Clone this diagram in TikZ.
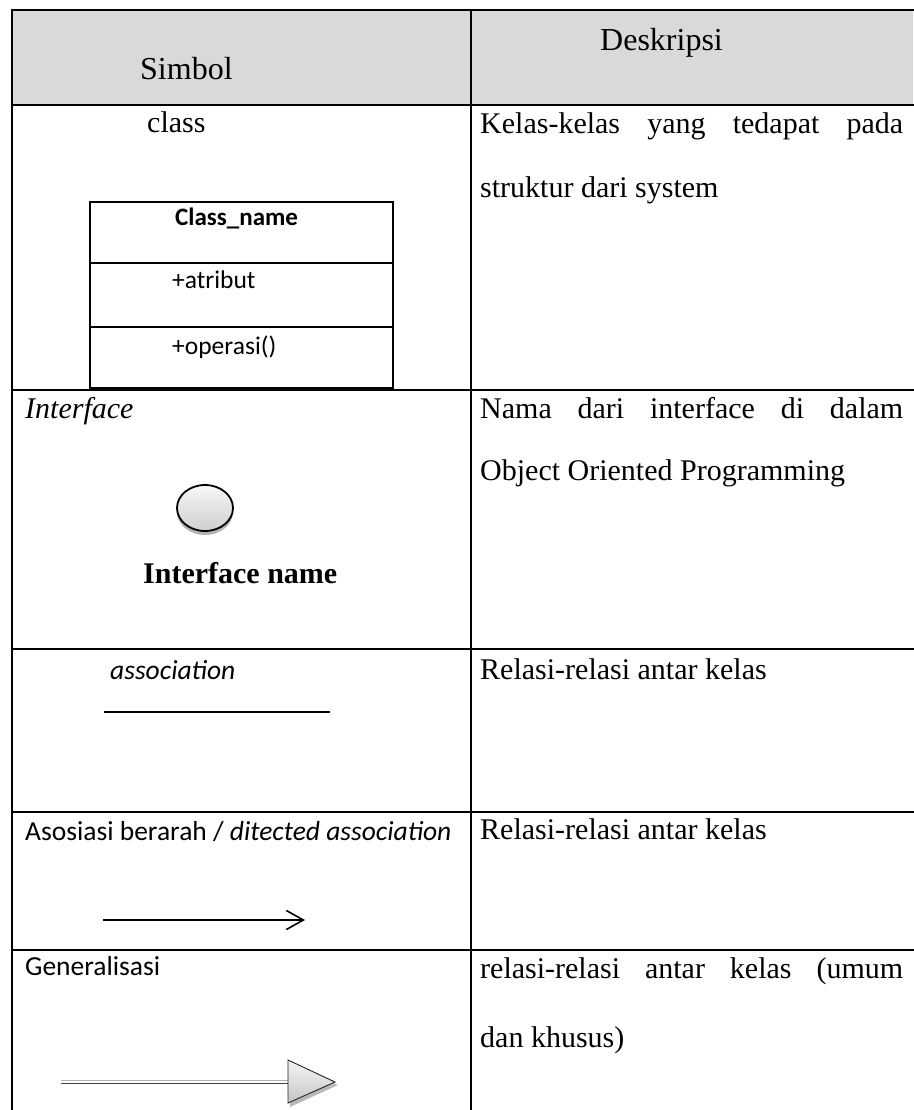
\documentclass[tikz,border=0pt]{standalone}
\usepackage{fontspec}
\setmainfont{Liberation Serif}
\newfontfamily\calibri{Carlito}
\usetikzlibrary{arrows.meta}
\definecolor{headgray}{HTML}{D9D9D9}
\tikzset{
  rowrule/.style={line width=2.6pt, line cap=rect},
  colrule/.style={line width=1.4pt},
  serif/.style={font=\fontsize{30}{36}\selectfont, inner sep=0pt, anchor=base west},
  serifit/.style={font=\itshape\fontsize{30}{36}\selectfont, inner sep=0pt, anchor=base west},
  serifbf/.style={font=\bfseries\fontsize{30}{36}\selectfont, inner sep=0pt, anchor=base west},
  headtext/.style={font=\fontsize{32}{38}\selectfont, inner sep=0pt, anchor=base west},
  sans/.style={font=\calibri\fontsize{27.5}{33}\selectfont, inner sep=0pt, anchor=base west},
  sansit/.style={font=\calibri\itshape\fontsize{27.5}{33}\selectfont, inner sep=0pt, anchor=base west},
  boxtext/.style={font=\calibri\fontsize{25.5}{30}\selectfont, inner sep=0pt, anchor=base west},
  boxtitle/.style={font=\calibri\bfseries\fontsize{25}{30}\selectfont, inner sep=0pt, anchor=base west},
  umlline/.style={line width=1.4pt},
}
\begin{document}
\begin{tikzpicture}[x=1pt,y=-1pt]
\useasboundingbox (0,0) rectangle (913,1110);

% header band
\fill[headgray] (12,10) rectangle (913,105);

% table rules
\draw[rowrule] (12,10) -- (913,10);
\draw[rowrule] (12,105) -- (913,105);
\draw[rowrule] (12,390) -- (913,390);
\draw[rowrule] (12,649) -- (913,649);
\draw[rowrule] (12,812) -- (913,812);
\draw[rowrule] (12,950) -- (913,950);
\draw[colrule] (12,10) -- (12,1110);
\draw[colrule] (471,10) -- (471,1110);

% header
\node[headtext] (hsimbol) at (140,80) {Simbol};
\node[headtext] (hdesk) at (600,51) {Deskripsi};

% class
\node[serif] (tclass) at (147,133) {class};
\draw[line width=1.8pt] (90,202) rectangle (393,388);
\draw[line width=1.8pt] (90,263) -- (393,263);
\draw[line width=1.8pt] (90,327) -- (393,327);
\draw[line width=2.8pt] (90,388) -- (393,388);
\node[boxtitle] (cname) at (175,225) {Class\_name};
\node[boxtext] (cattr) at (172,288) {+atribut};
\node[boxtext] (cop) at (172,354) {+operasi()};

% interface
\node[serifit] (tiface) at (25,418) {Interface};
\fill[gray!60] (205,512) ellipse [x radius=28pt, y radius=23pt];
\shade[top color=gray!6, bottom color=gray!38, draw=black, line width=1.8pt]
  (205,508) ellipse [x radius=28pt, y radius=23pt];
\node[serifbf] (ifname) at (143,583) {Interface name};

% association
\node[sansit] (tassoc) at (110,679) {association};
\coordinate (as1) at (104,712);
\coordinate (as2) at (330,712);
\draw[umlline] (as1) -- (as2);

% directed association
\node[sans] (tdir) at (25,840) {Asosiasi berarah / \textit{ditected association}};
\coordinate (da1) at (103,920);
\coordinate (da2) at (305,920);
\draw[umlline, -{Straight Barb[length=17pt, width=19pt, line width=1.6pt]}] (da1) -- (da2);

% generalization
\node[sans] (tgen) at (25,975) {Generalisasi};
\coordinate (g1) at (61,1082);
\coordinate (g2) at (288,1082);
\draw[line width=1.6pt, black!75] ([yshift=-1.3pt]g1) -- ([yshift=-1.3pt]g2);
\draw[line width=1.6pt, gray!60] ([yshift=1.7pt]g1) -- ([yshift=1.7pt]g2);
\fill[gray!55] (290,1064) -- (338,1085) -- (290,1107) -- cycle;
\shade[top color=gray!8, bottom color=gray!45, draw=gray!30!black, line width=0.9pt]
  (288,1060) -- (335,1082) -- (288,1103) -- cycle;

% descriptions
\node[serif] (d1a) at (480,134) {\hbox to 423pt{Kelas-kelas\hfill yang\hfill tedapat\hfill pada}};
\node[serif] (d1b) at (480,197) {struktur dari system};
\node[serif] (d2a) at (480,418) {\hbox to 423pt{Nama\hfill dari\hfill interface\hfill di\hfill dalam}};
\node[serif] (d2b) at (480,480) {Object Oriented Programming};
\node[serif] (d3) at (480,679) {Relasi-relasi antar kelas};
\node[serif] (d4) at (480,839) {Relasi-relasi antar kelas};
\node[serif] (d5a) at (480,978) {\hbox to 423pt{relasi-relasi\hfill antar\hfill kelas\hfill (umum}};
\node[serif] (d5b) at (480,1047) {dan khusus)};
\end{tikzpicture}
\end{document}
